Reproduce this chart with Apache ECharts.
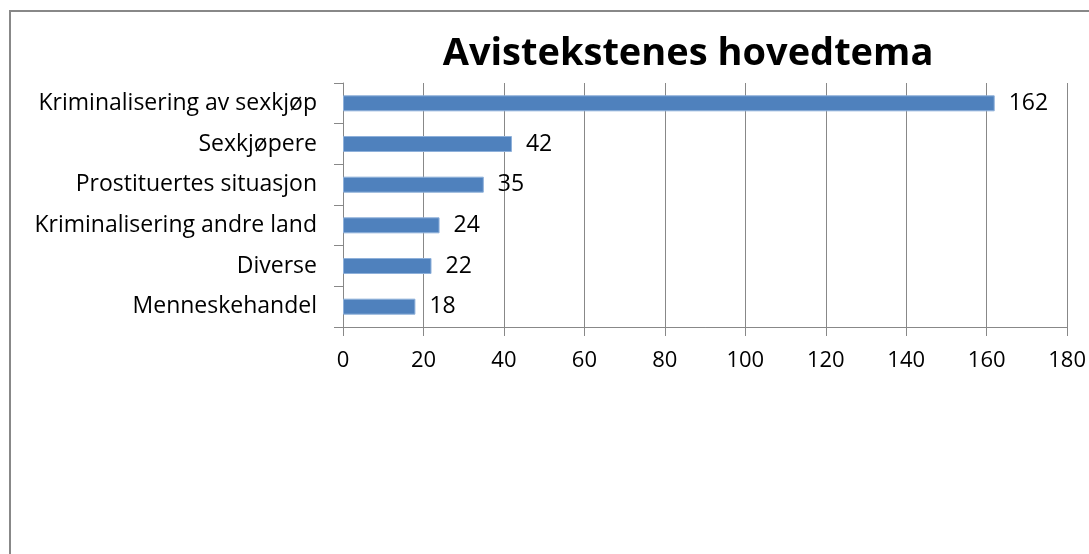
<!DOCTYPE html>
<html><head><meta charset="utf-8">
<script src="https://cdn.jsdelivr.net/npm/echarts@6/dist/echarts.min.js"></script>
<style>html,body{margin:0;padding:0;background:#fff}#c{width:1089px;height:554px}</style>
</head><body><div id="c"></div>
<script>
const title = "Avistekstenes hovedtema";
const categories = ["Kriminalisering av sexkjøp","Sexkjøpere","Prostituertes situasjon","Kriminalisering andre land","Diverse","Menneskehandel"];
const values = [162,42,35,24,22,18];
const xTicks = [0,20,40,60,80,100,120,140,160,180];

const chart = echarts.init(document.getElementById('c'), null, {renderer:'canvas'});
const font = "'Open Sans', sans-serif";
chart.setOption({
  animation:false,
  backgroundColor:'#fff',
  graphic:[{type:'rect', shape:{x:10,y:11,width:1200,height:700}, style:{fill:'none',stroke:'#888',lineWidth:2}, silent:true}],
  title:{text:title,left:683,top:30,textAlign:'center',textStyle:{fontFamily:font,fontWeight:'bold',fontSize:38,color:'#000'}},
  grid:{left:343,right:21,top:83,height:244,containLabel:false},
  xAxis:{type:'value',min:0,max:180,interval:20,
    axisLine:{show:true,lineStyle:{color:'#888',width:1}},
    axisTick:{show:true,length:9,lineStyle:{color:'#888'}},
    splitLine:{show:true,lineStyle:{color:'#888',width:1}},
    axisLabel:{margin:23,fontFamily:font,fontSize:22,color:'#000',formatter:v=>xTicks.includes(v)?String(v):''}},
  yAxis:{type:'category',data:categories,inverse:true,
    axisLine:{show:true,lineStyle:{color:'#888',width:1}},
    axisTick:{show:true,length:9,lineStyle:{color:'#888'}},
    axisLabel:{margin:26,fontFamily:font,fontSize:23,color:'#000'}},
  series:[{type:'bar',data:values,barWidth:16,
    itemStyle:{color:'#4F81BD',borderColor:'#8EB0DA',borderWidth:1},
    label:{show:true,position:'right',distance:14,fontFamily:font,fontSize:23,color:'#000'}}]
});
</script></body></html>
